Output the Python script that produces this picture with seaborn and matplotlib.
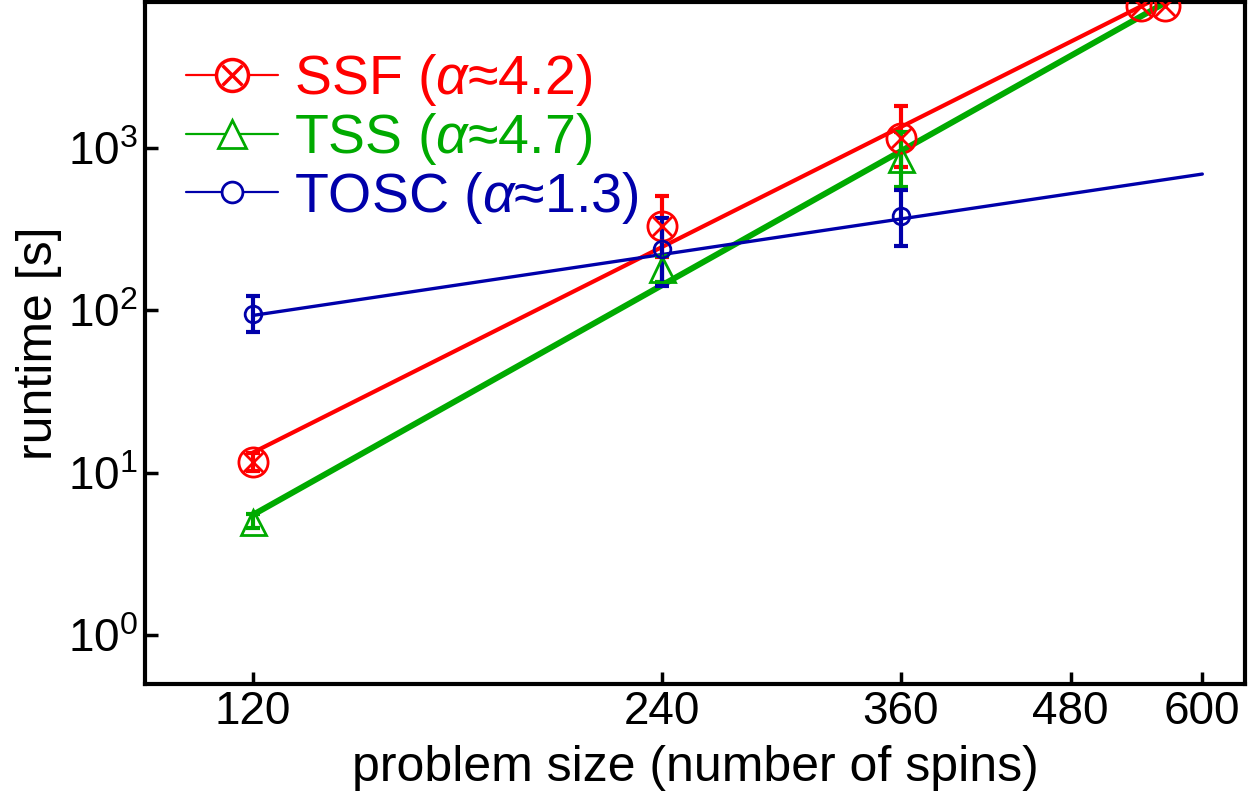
import numpy as np
import pandas as pd
import matplotlib
matplotlib.use("Agg")
import matplotlib.pyplot as plt
import seaborn as sns
from matplotlib.lines import Line2D
from matplotlib.legend_handler import HandlerTuple

ssf_x = [120, 240, 360, 541, 563]
ssf_y = [11.6, 330, 1150, 7500, 7500]
ssf_lo = [10.2, 214, 764]
ssf_hi = [13.2, 508, 1810]

tss_x = [120, 240, 360]
tss_y = [4.95, 180, 856]
tss_lo = [4.6, 150, 577]
tss_hi = [5.6, 215, 1253]

tosc_x = [120, 240, 360]
tosc_y = [95, 237, 383]
tosc_lo = [74, 142, 250]
tosc_hi = [122, 372, 552]

# power-law fit lines (end points)
fit_x = [120, 600]
ssf_fit = [13.3, 11500]
tss_fit = [5.5, 10500]
tosc_fit = [93, 690]

labels = ["SSF ($\\alpha$≈4.2)", "TSS ($\\alpha$≈4.7)", "TOSC ($\\alpha$≈1.3)"]
x_ticks = [120, 240, 360, 480, 600]
y_ticks = [1, 10, 100, 1000]

RED = "#ff0000"
GREEN = "#00aa00"
BLUE = "#0000aa"

sns.set_theme(style="ticks")
plt.rcParams["font.family"] = ["Liberation Sans", "DejaVu Sans"]
plt.rcParams["mathtext.fontset"] = "custom"
plt.rcParams["mathtext.rm"] = "Liberation Sans"
plt.rcParams["mathtext.it"] = "Liberation Sans:italic"
plt.rcParams["text.color"] = "black"
plt.rcParams["axes.labelcolor"] = "black"

fig = plt.figure(figsize=(12.5, 8.05), dpi=100)
ax = fig.add_axes([0.116, 0.150, 0.880, 0.8475])

fits = pd.DataFrame({
    "N": fit_x * 3,
    "t": ssf_fit + tss_fit + tosc_fit,
    "alg": ["SSF"] * 2 + ["TSS"] * 2 + ["TOSC"] * 2,
})
sns.lineplot(data=fits, x="N", y="t", hue="alg", size="alg",
             palette={"SSF": RED, "TSS": GREEN, "TOSC": BLUE},
             sizes={"SSF": 3.0, "TSS": 4.3, "TOSC": 2.4},
             legend=False, ax=ax)

def draw_points(x, y, lo, hi, color, marker, ms):
    y = np.array(y)
    n = len(lo)
    err = [y[:n] - np.array(lo), np.array(hi) - y[:n]]
    ax.errorbar(x[:n], y[:n], yerr=err, fmt="none", ecolor=color,
                elinewidth=3, capsize=5, capthick=3, zorder=4)
    ax.plot(x, y, ls="none", marker=marker, ms=ms, mfc="none", mec=color,
            mew=2, zorder=5)

draw_points(ssf_x, ssf_y, ssf_lo, ssf_hi, RED, "o", 21)
ax.plot(ssf_x, ssf_y, ls="none", marker="x", ms=14, mec=RED, mew=2, zorder=5)
draw_points(tss_x, tss_y, tss_lo, tss_hi, GREEN, "^", 18)
draw_points(tosc_x, tosc_y, tosc_lo, tosc_hi, BLUE, "o", 12)

ax.set_xscale("log")
ax.set_yscale("log")
ax.set_xlim(100, 645)
ax.set_ylim(0.5, 7900)
ax.set_xticks(x_ticks)
ax.set_xticklabels([str(v) for v in x_ticks])
ax.set_yticks(y_ticks)
ax.minorticks_off()
ax.tick_params(direction="in", length=9, width=2.5, labelsize=33,
               colors="black")
ax.tick_params(axis="x", pad=4)
ax.tick_params(axis="y", pad=5)

for s in ax.spines.values():
    s.set_linewidth(3)
    s.set_color("black")

ax.set_xlabel("problem size (number of spins)", fontsize=36, labelpad=8)
ax.set_ylabel("runtime [s]", fontsize=36, labelpad=4)

# legend handles: line with marker on top
h_ssf = (Line2D([], [], color=RED, lw=1.6),
         Line2D([], [], ls="none", marker="o", ms=23, mfc="white", mec=RED, mew=2.5),
         Line2D([], [], ls="none", marker="x", ms=15, mec=RED, mew=2.5))
h_tss = (Line2D([], [], color=GREEN, lw=1.6),
         Line2D([], [], ls="none", marker="^", ms=20, mfc="white", mec=GREEN, mew=2))
h_tosc = (Line2D([], [], color=BLUE, lw=1.6),
          Line2D([], [], ls="none", marker="o", ms=15, mfc="white", mec=BLUE, mew=2))

leg = ax.legend([h_ssf, h_tss, h_tosc], labels,
                handler_map={tuple: HandlerTuple(ndivide=1)},
                loc="upper left", bbox_to_anchor=(0.017, 0.959),
                frameon=False, fontsize=40, handlelength=1.65,
                handletextpad=0.3, labelspacing=0.05, borderaxespad=0)
for txt, c in zip(leg.get_texts(), [RED, GREEN, BLUE]):
    txt.set_color(c)

fig.savefig("out.png", dpi=100)
